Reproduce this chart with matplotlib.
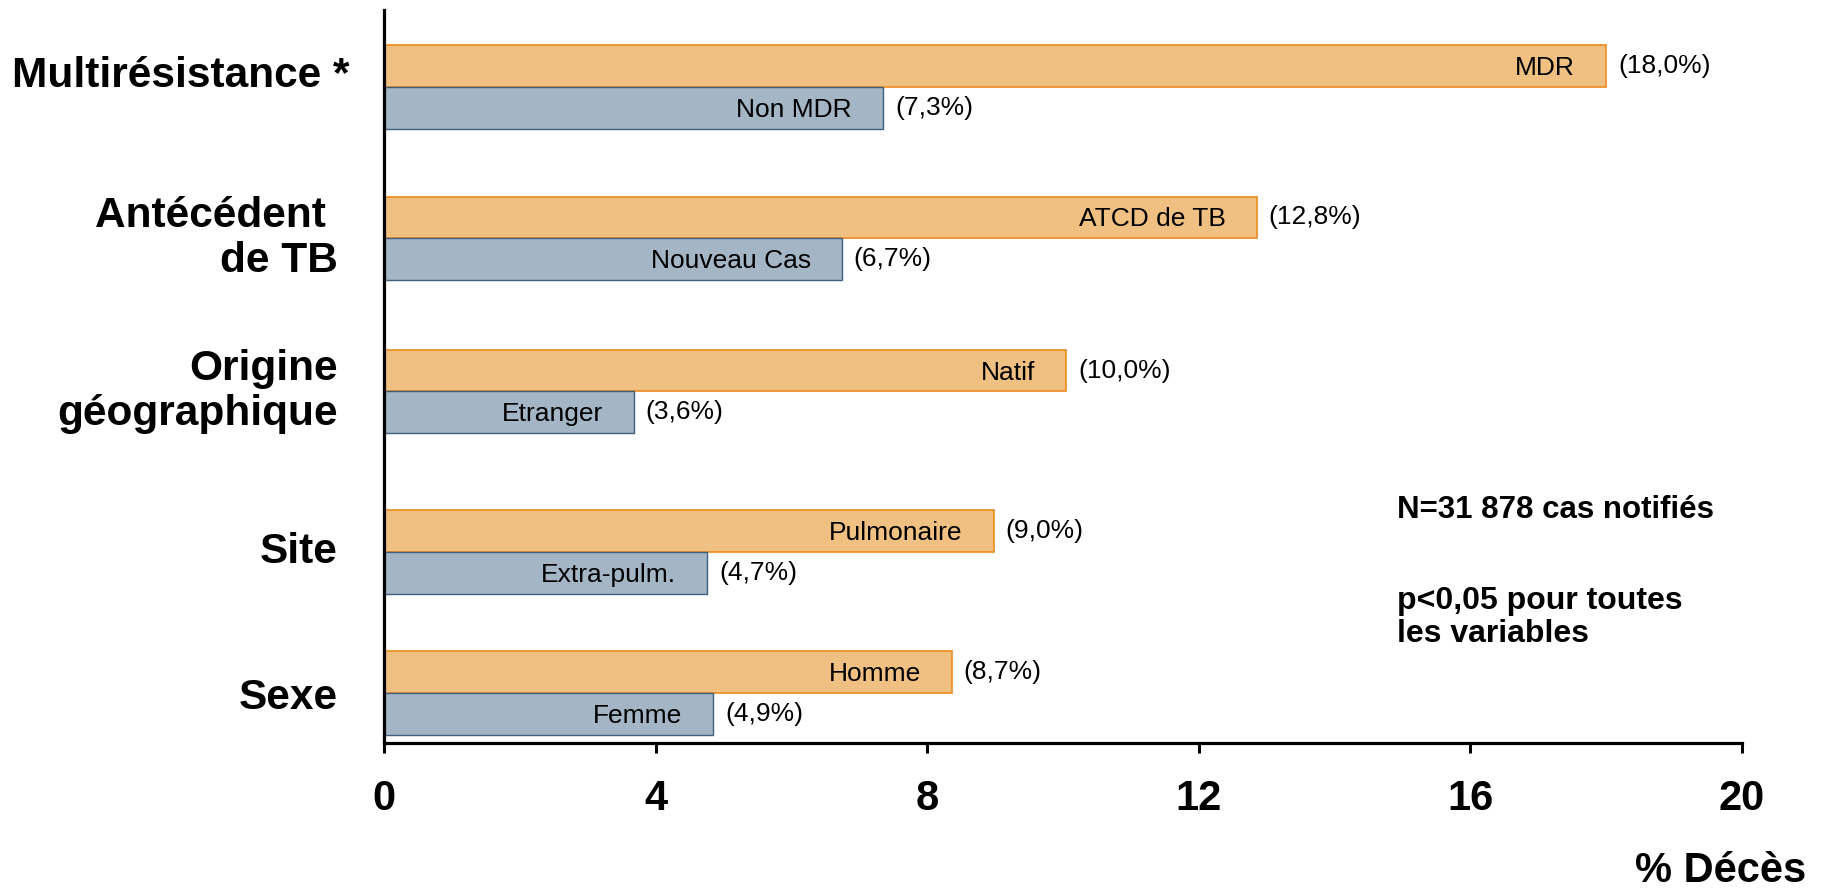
import matplotlib
matplotlib.use("Agg")
import matplotlib.pyplot as plt
import numpy as np
from matplotlib.transforms import blended_transform_factory

plt.rcParams['font.family'] = ['Liberation Sans', 'DejaVu Sans']

# ---- data ----
categories = ["Multirésistance *", "Antécédent \nde TB", "Origine\ngéographique", "Site", "Sexe"]
high_labels = ["MDR", "ATCD de TB", "Natif", "Pulmonaire", "Homme"]
high_values = [18.0, 12.85, 10.05, 8.98, 8.36]
high_pct = ["(18,0%)", "(12,8%)", "(10,0%)", "(9,0%)", "(8,7%)"]
low_labels = ["Non MDR", "Nouveau Cas", "Etranger", "Extra-pulm.", "Femme"]
low_values = [7.35, 6.74, 3.68, 4.76, 4.85]
low_pct = ["(7,3%)", "(6,7%)", "(3,6%)", "(4,7%)", "(4,9%)"]
xticks = [0, 4, 8, 12, 16, 20]
note1 = "N=31 878 cas notifiés"
note2 = "p<0,05 pour toutes\nles variables"
xlabel = "% Décès"

# ---- layout / style ----
group_pos = [4.0, 3.0, 1.99, 0.93, 0.0]
ORANGE_FILL = "#F0C083"
ORANGE_EDGE = "#EE8A1D"
BLUE_FILL = "#A4B5C5"
BLUE_EDGE = "#3F5F7F"
PX = 0.72  # points per pixel at dpi 100

fig = plt.figure(figsize=(18.25, 8.88), dpi=100)
W, H = 1825, 888
ax = fig.add_axes([384 / W, 145 / H, (1742 - 384) / W, (743 - 10) / H])

n = len(categories)
y = np.array(group_pos, dtype=float)
h = 0.277

ax.barh(y + h / 2, high_values, height=h, color=ORANGE_FILL, edgecolor=ORANGE_EDGE, linewidth=1.2, zorder=2)
ax.barh(y - h / 2, low_values, height=h, color=BLUE_FILL, edgecolor=BLUE_EDGE, linewidth=1.0, zorder=2)

fs_small = 19
for yi, v, lab, pct in zip(y + h / 2, high_values, high_labels, high_pct):
    ax.annotate(lab, xy=(v, yi), xytext=(-31 * PX, -2 * PX), textcoords="offset points",
                ha="right", va="center", fontsize=fs_small, zorder=3)
    ax.annotate(pct, xy=(v, yi), xytext=(12 * PX, 0), textcoords="offset points",
                ha="left", va="center", fontsize=fs_small, zorder=3)
for yi, v, lab, pct in zip(y - h / 2, low_values, low_labels, low_pct):
    ax.annotate(lab, xy=(v, yi), xytext=(-31 * PX, -2 * PX), textcoords="offset points",
                ha="right", va="center", fontsize=fs_small, zorder=3)
    ax.annotate(pct, xy=(v, yi), xytext=(12 * PX, 0), textcoords="offset points",
                ha="left", va="center", fontsize=fs_small, zorder=3)

# category labels
trans = blended_transform_factory(ax.transAxes, ax.transData)
for i, (yi, cat) in enumerate(zip(y, categories)):
    dx, dy = -46, 0
    if i == 0:
        dx, dy = -34, 11
    elif i == n - 1:
        dy = -5
    ax.annotate(cat, xy=(0, yi), xycoords=trans, xytext=(dx * PX, dy * PX), textcoords="offset points",
                ha="right", va="center", ma="right", fontsize=30.5, fontweight="bold", linespacing=1.19)

ax.set_xlim(0, 20)
ax.set_ylim(-0.330, 4.508)
ax.set_xticks(xticks)
ax.set_xticklabels([str(t) for t in xticks], fontsize=30, fontweight="bold")
ax.tick_params(axis="x", length=10 * PX, width=3 * PX, pad=19, direction="out")
ax.set_yticks([])
for s in ["top", "right"]:
    ax.spines[s].set_visible(False)
for s in ["left", "bottom"]:
    ax.spines[s].set_linewidth(3.2 * PX)
    ax.spines[s].set_zorder(4)

# notes
fig.text(1397 / W, 1 - 510 / H, note1, fontsize=22.5, fontweight="bold", ha="left", va="center")
fig.text(1397 / W, 1 - 586 / H, note2, fontsize=23, fontweight="bold", ha="left", va="top", linespacing=1.15)
fig.text(1806 / W, 1 - 882 / H, xlabel, fontsize=30, fontweight="bold", ha="right", va="baseline")

fig.savefig("out.png", dpi=100)
